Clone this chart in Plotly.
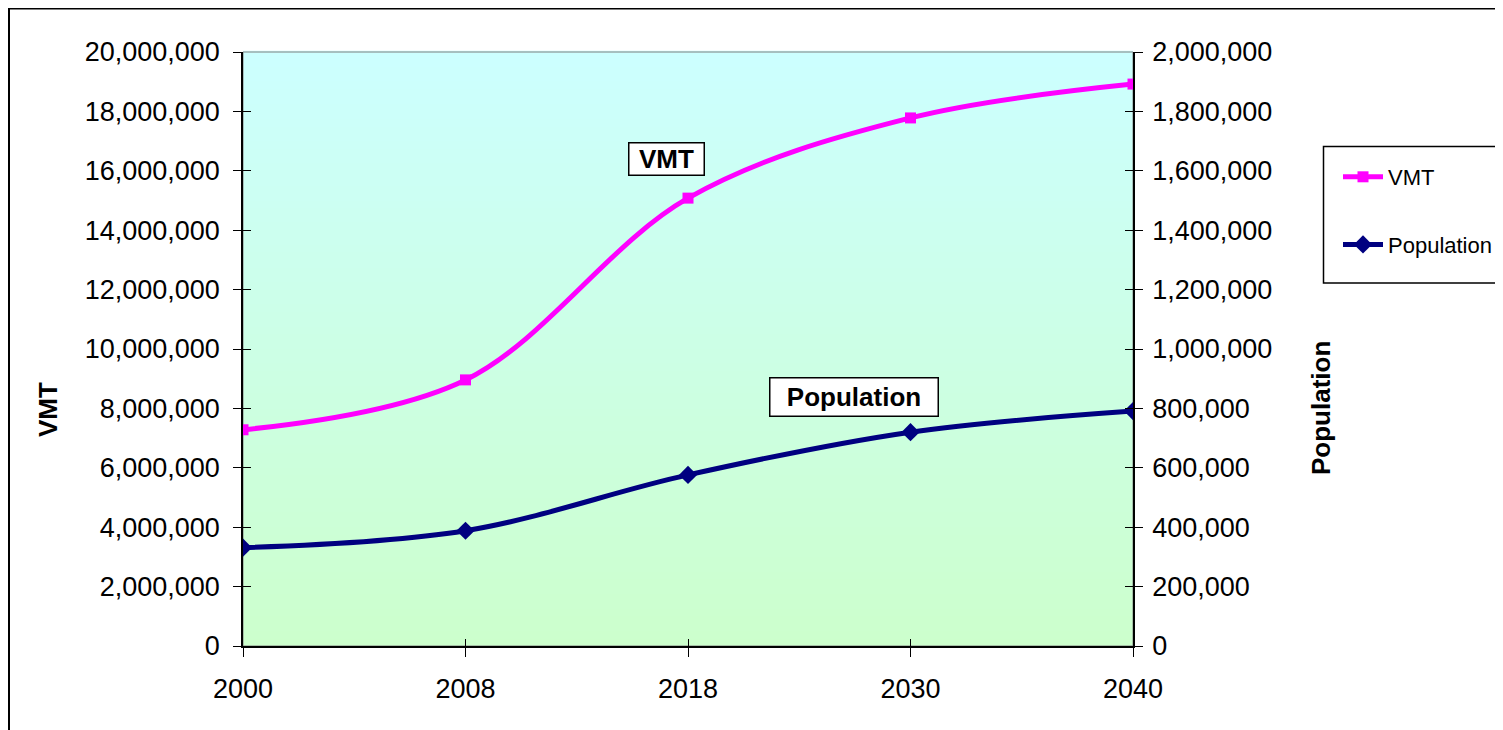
import plotly.graph_objects as go

years = ["2000", "2008", "2018", "2030", "2040"]
vmt = [7280000, 8960000, 15080000, 17780000, 18920000]
population = [331000, 388000, 576000, 720000, 791000]
vmt_ticks = list(range(0, 20000001, 2000000))
pop_ticks = list(range(0, 2000001, 200000))

FONT = "Arial, 'Liberation Sans', sans-serif"
OFF = 8  # page body margin
W, H = 1503 - OFF, 730 - OFF
# plot area in screen pixels
SL, SR, ST, SB = 243, 1133, 52, 646
L, R, T, B = SL - OFF, SR - OFF, ST - OFF, SB - OFF
pw, ph = R - L, B - T


def px_x(s):
    return (s - SL) / pw


def px_y(s):
    return (SB - s) / ph


fig = go.Figure()

fig.add_trace(go.Scatter(
    x=years, y=vmt, name="VMT", mode="lines+markers",
    line=dict(color="#FF00FF", width=5, shape="spline", smoothing=1.0),
    marker=dict(symbol="square", size=11, color="#FF00FF"),
    legendgroup="a", xaxis="x", yaxis="y"))
fig.add_trace(go.Scatter(
    x=years, y=population, name="Population", mode="lines+markers",
    line=dict(color="#000080", width=5, shape="spline", smoothing=1.0),
    marker=dict(symbol="diamond", size=14, color="#000080"),
    legendgroup="b", xaxis="x", yaxis="y2"))
# helper invisible traces so the overlay axes (for crossing tick marks) are drawn
fig.add_trace(go.Scatter(x=years, y=vmt, mode="markers", marker=dict(opacity=0),
                         showlegend=False, hoverinfo="skip", xaxis="x2", yaxis="y3"))
fig.add_trace(go.Scatter(x=years, y=population, mode="markers", marker=dict(opacity=0),
                         showlegend=False, hoverinfo="skip", xaxis="x2", yaxis="y4"))

# gradient background strips
shapes = []
N = 80
top = (204, 255, 255)
bot = (204, 255, 204)
for i in range(N):
    f = (i + 0.5) / N
    c = tuple(round(bot[k] + (top[k] - bot[k]) * f) for k in range(3))
    shapes.append(dict(type="rect", xref="paper", yref="paper", x0=0, x1=1,
                       y0=i / N, y1=(i + 1) / N + 0.002, layer="below",
                       line=dict(width=0), fillcolor="rgb(%d,%d,%d)" % c))
shapes.append(dict(type="rect", xref="paper", yref="paper", x0=0, x1=1, y0=0, y1=1,
                   layer="below", line=dict(color="#808080", width=1)))
# outer chart border (top and left visible)
shapes.append(dict(type="line", xref="paper", yref="paper",
                   x0=px_x(8), x1=px_x(1520), y0=px_y(8.5), y1=px_y(8.5),
                   line=dict(color="black", width=2)))
shapes.append(dict(type="line", xref="paper", yref="paper",
                   x0=px_x(9), x1=px_x(9), y0=px_y(8), y1=px_y(740),
                   line=dict(color="black", width=2)))
# legend frame
shapes.append(dict(type="rect", xref="paper", yref="paper",
                   x0=px_x(1323.5), x1=px_x(1497), y0=px_y(283), y1=px_y(146.5),
                   layer="below", fillcolor="white", line=dict(color="black", width=1.5)))

annotations = [
    dict(text="<b>VMT</b>", xref="paper", yref="paper", x=px_x(666), y=px_y(158.5),
         xanchor="center", yanchor="middle", width=72, height=29,
         showarrow=False, font=dict(family=FONT, size=26, color="black"),
         bgcolor="white", bordercolor="black", borderwidth=1.5, borderpad=1),
    dict(text="<b>Population</b>", xref="paper", yref="paper", x=px_x(853.5), y=px_y(396.5),
         xanchor="center", yanchor="middle", width=165, height=35,
         showarrow=False, font=dict(family=FONT, size=26, color="black"),
         bgcolor="white", bordercolor="black", borderwidth=1.5, borderpad=1),
    dict(text="<b>VMT</b>", xref="paper", yref="paper", x=px_x(48), y=px_y(410),
         xanchor="center", yanchor="middle",
         textangle=-90, showarrow=False, font=dict(family=FONT, size=26, color="black")),
    dict(text="<b>Population</b>", xref="paper", yref="paper", x=px_x(1321), y=px_y(408),
         xanchor="center", yanchor="middle",
         textangle=-90, showarrow=False, font=dict(family=FONT, size=26, color="black")),
]

tickfont = dict(family=FONT, size=27, color="black")
fig.update_layout(
    width=W, height=H,
    margin=dict(l=L, r=W - R, t=T, b=H - B, pad=0, autoexpand=False),
    paper_bgcolor="white", plot_bgcolor="white",
    font=dict(family=FONT, color="black"),
    shapes=shapes, annotations=annotations,
    showlegend=True,
    legend=dict(x=px_x(1338), y=px_y(156), xanchor="left", yanchor="top",
                borderwidth=0, bgcolor="rgba(0,0,0,0)",
                font=dict(family=FONT, size=22, color="black"),
                tracegroupgap=36, itemwidth=40, traceorder="grouped"),
    xaxis=dict(type="category", categoryorder="array", categoryarray=years,
               range=[0, 4], showline=True, linecolor="black", linewidth=1.5,
               ticks="outside", ticklen=9, tickcolor="black", tickfont=tickfont,
               ticklabelstandoff=9, automargin=False,
               showgrid=False, zeroline=False, anchor="y"),
    xaxis2=dict(type="category", categoryorder="array", categoryarray=years,
                range=[0, 4], overlaying="x", anchor="y3", side="bottom",
                ticks="inside", ticklen=7, tickcolor="black", showticklabels=False,
                showgrid=False, zeroline=False, showline=False),
    yaxis=dict(range=[0, 20000000], tickvals=vmt_ticks, tickformat=",",
               showline=True, linecolor="black", linewidth=1.5,
               ticks="outside", ticklen=8, tickcolor="black", tickfont=tickfont,
               ticklabelstandoff=8, automargin=False,
               showgrid=False, zeroline=False),
    yaxis2=dict(range=[0, 2000000], tickvals=pop_ticks, tickformat=",",
                overlaying="y", side="right", anchor="x",
                showline=True, linecolor="black", linewidth=1.5,
                ticks="outside", ticklen=8, tickcolor="black", tickfont=tickfont,
                ticklabelstandoff=4, automargin=False,
                showgrid=False, zeroline=False),
    yaxis3=dict(range=[0, 20000000], tickvals=vmt_ticks, overlaying="y", side="left",
                anchor="x2", ticks="inside", ticklen=8, tickcolor="black",
                showticklabels=False, showgrid=False, zeroline=False, showline=False),
    yaxis4=dict(range=[0, 2000000], tickvals=pop_ticks, overlaying="y", side="right",
                anchor="x2", ticks="inside", ticklen=8, tickcolor="black",
                showticklabels=False, showgrid=False, zeroline=False, showline=False),
)

fig.write_html("out.html")
